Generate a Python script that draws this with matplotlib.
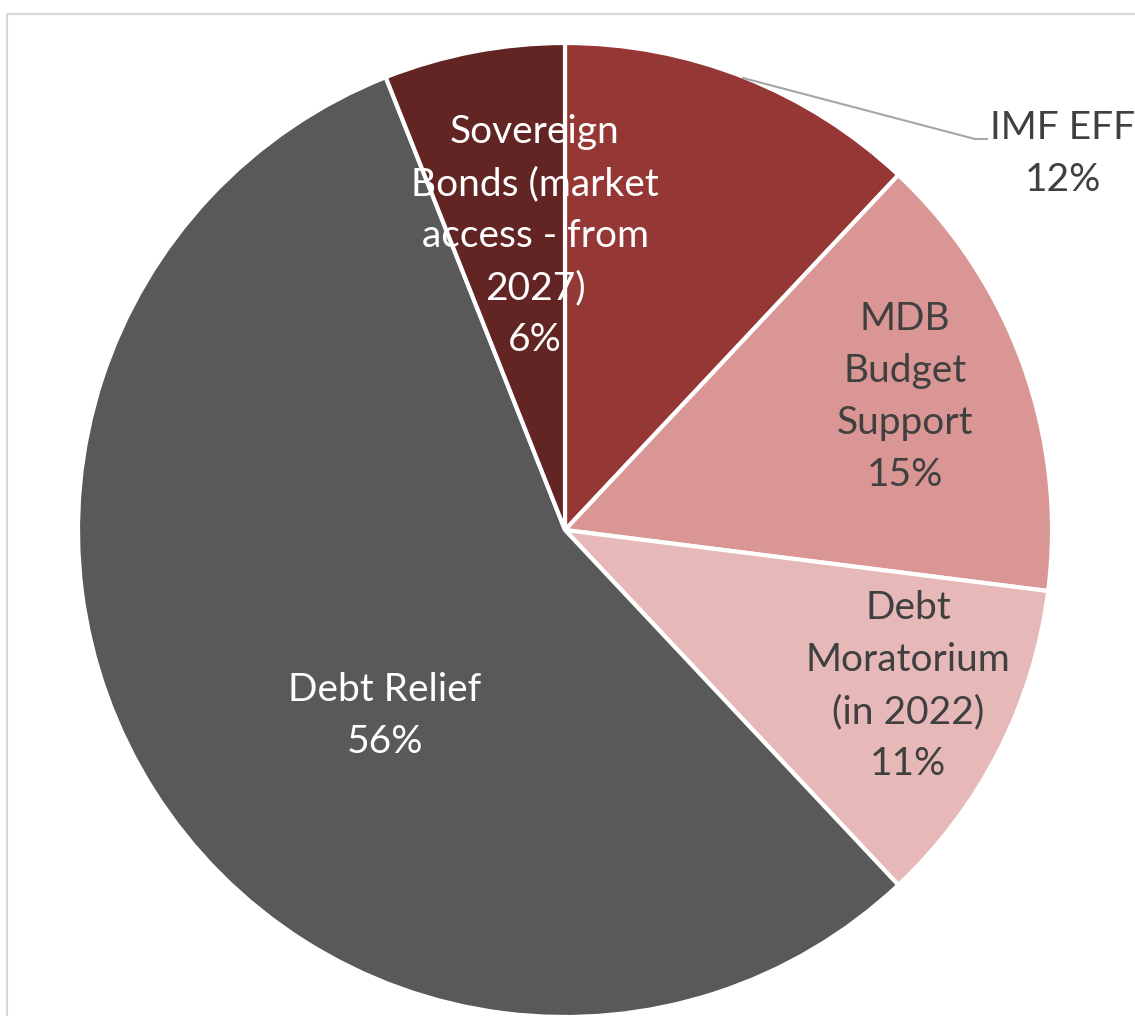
import matplotlib.pyplot as plt
from matplotlib.patches import Rectangle

# Funding sources, clockwise from 12 o'clock
labels = ["IMF EFF", "MDB\nBudget\nSupport", "Debt\nMoratorium\n(in 2022)",
          "Debt Relief", "Sovereign\nBonds (market\naccess - from\n2027)"]
shares = [12, 15, 11, 56, 6]
colors = ["#953735", "#D99694", "#E6B9B8", "#595959", "#632523"]
text_colors = ["#404040", "#404040", "#404040", "white", "white"]

plt.rcParams['font.family'] = ['Lato', 'DejaVu Sans']

W, H = 1135, 1016
fig = plt.figure(figsize=(W / 100, H / 100), dpi=100)
ax = fig.add_axes([0, 0, 1, 1])

# pie in pixel-like coordinates (y up)
cx, cy, r = 565, H - 530, 487
wedges, _ = ax.pie(shares, colors=colors, startangle=90, counterclock=False,
                   center=(cx, cy), radius=r,
                   wedgeprops=dict(edgecolor="white", linewidth=3))

# chart area frame
ax.add_patch(Rectangle((7, -10), W + 20, H - 14 + 10, fill=False,
                       edgecolor="#D9D9D9", linewidth=1.5, zorder=0))

# label positions (x, y of block centre)
label_pos = [(1063, H - 154), (905, H - 397), (908, H - 686),
             (385, H - 716), (535, H - 236)]
for lab, s, (lx, ly), tc in zip(labels, shares, label_pos, text_colors):
    ax.text(lx, ly, f"{lab}\n{s}%", ha="center", va="center", color=tc,
            fontsize=28, linespacing=1.55, zorder=5)

# leader line for IMF EFF
ax.plot([743, 975, 987], [H - 78, H - 139, H - 139], color="#A6A6A6",
        linewidth=1.5, zorder=4)

ax.set_xlim(0, W)
ax.set_ylim(0, H)
ax.set_aspect("equal")
ax.axis("off")

fig.savefig("out.png", dpi=100)
